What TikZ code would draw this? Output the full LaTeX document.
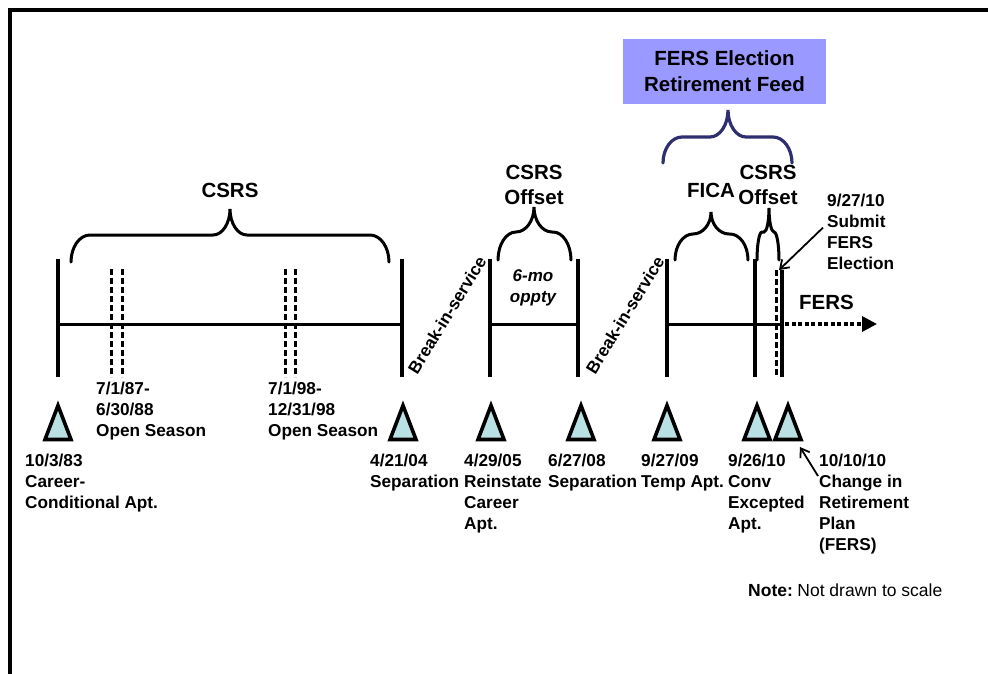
\documentclass[tikz,border=0pt]{standalone}
\usepackage{fontspec}
\setmainfont{Liberation Sans}
\usetikzlibrary{arrows.meta}
\definecolor{boxblue}{RGB}{153,153,255}
\definecolor{bracenavy}{RGB}{46,46,112}
\definecolor{teallight}{RGB}{185,224,226}
\newcommand\labf{\fontsize{17.2}{21}\selectfont\bfseries}
\newcommand\headf{\fontsize{20.5}{24.5}\selectfont\bfseries}
% #1 style, #2 x1, #3 x2, #4 xtip, #5 yend, #6 ymid, #7 ytip, #8 r(end), #9 r(tip)
\newcommand{\mybrace}[9]{%
\draw[#1] (#2,#5) .. controls (#2,{#5-0.552*(#5-#6)}) and ({#2+0.448*#8},#6) .. ({#2+#8},#6)
 -- ({#4-#9},#6) .. controls ({#4-0.448*#9},#6) and (#4,{#7+0.552*(#6-#7)}) .. (#4,#7)
 .. controls (#4,{#7+0.552*(#6-#7)}) and ({#4+0.448*#9},#6) .. ({#4+#9},#6)
 -- ({#3-#8},#6) .. controls ({#3-0.448*#8},#6) and (#3,{#5-0.552*(#5-#6)}) .. (#3,#5);}
\begin{document}
\begin{tikzpicture}[x=1pt,y=-1pt,
  frameline/.style={line width=4pt},
  vline/.style={line width=3.6pt},
  tline/.style={line width=3pt},
  dline/.style={line width=3pt, dash pattern=on 6pt off 3pt},
  bracestyle/.style={line width=3pt, line cap=round},
  lab/.style={font=\labf, align=left, anchor=north west, inner sep=0pt},
  head/.style={font=\headf, align=center, inner sep=0pt},
  tri/.style={draw, line width=3.6pt, fill=teallight},
  arr/.style={line width=1.8pt, -{Straight Barb[length=8pt,width=11pt]}},
  dotarr/.style={line width=3.4pt, dash pattern=on 4pt off 2.5pt, -{Triangle[length=15pt,width=15pt]}}
]
\useasboundingbox (0,0) rectangle (988,673);
% frame
\draw[frameline] (9.5,675) -- (9.5,9.5) -- (992,9.5);

% top box and brace
\node[head, fill=boxblue, minimum width=203pt, minimum height=65pt, font=\fontsize{20.5}{26}\selectfont\bfseries] (feed) at (724.5,71.5) {FERS Election\\Retirement Feed};
\mybrace{bracestyle, draw=bracenavy, line width=3.2pt}{663}{792}{728}{163}{137}{110}{19}{18}

% braces
\mybrace{bracestyle}{71}{389}{230}{262}{235}{209}{19}{17}
\mybrace{bracestyle}{498}{571}{534}{260}{232}{207}{18}{18}
\mybrace{bracestyle}{675}{748}{711}{260}{234}{212}{18}{18}
\mybrace{bracestyle}{757}{779}{769}{260}{232}{208}{5}{5}

% headings
\node[head] (csrs) at (230,190) {CSRS};
\node[head] (off1) at (534,185) {CSRS\\Offset};
\node[head] (fica) at (711,190) {FICA};
\node[head] (off2) at (768,185) {CSRS\\Offset};
\node[head, anchor=west] (fers) at (799,302) {FERS};

% vertical lines
\foreach \x in {58,402,490,578,667,755}
  \draw[vline] (\x,259) -- (\x,377);
\draw[vline] (782,270) -- (782,377);
\foreach \x in {111,122,285,295}
  \draw[dline] (\x,269) -- (\x,377);
\draw[dline] (776.5,270) -- (776.5,377);

% timeline
\draw[tline] (58,324) -- (402,324);
\draw[tline] (490,324) -- (578,324);
\draw[tline] (667,324) -- (782,324);
\coordinate (fstart) at (785,324);
\coordinate (fend) at (877,324);
\draw[dotarr] (fstart) -- (fend);

% break in service
\node[font=\labf, rotate=58.5, inner sep=0pt] (bis1) at (447,315) {Break-in-service};
\node[font=\labf, rotate=58.5, inner sep=0pt] (bis2) at (625,315) {Break-in-service};
\node[font=\fontsize{17}{21.5}\selectfont\bfseries\itshape, align=center, inner sep=0pt] (oppty) at (533,288) {6-mo\\oppty};

% triangles
\foreach \x in {58,403,491,581,667,757,788}
  \draw[tri] (\x-13,439.5) -- (\x,405.5) -- (\x+13,439.5) -- cycle;

% labels
\node[lab] (l1) at (25,453.6) {10/3/83\\Career-\\Conditional Apt.};
\node[lab] (os1) at (96,381.6) {7/1/87-\\6/30/88\\Open Season};
\node[lab] (os2) at (268,381.6) {7/1/98-\\12/31/98\\Open Season};
\node[lab] (l2) at (370,453.6) {4/21/04\\Separation};
\node[lab] (l3) at (464,453.6) {4/29/05\\Reinstate\\Career\\Apt.};
\node[lab] (l4) at (548,453.6) {6/27/08\\Separation};
\node[lab] (l5) at (641,453.6) {9/27/09\\Temp Apt.};
\node[lab] (l6) at (728,453.6) {9/26/10\\Conv\\Excepted\\Apt.};
\node[lab] (l7) at (819,453.6) {10/10/10\\Change in\\Retirement\\Plan\\(FERS)};
\node[lab] (sub) at (827,193.6) {9/27/10\\Submit\\FERS\\Election};

% annotation arrows
\coordinate (subhead) at (779,270);
\draw[arr] ([xshift=-4pt,yshift=4pt]sub.west) -- (subhead);
\coordinate (chgtail) at (818,476);
\coordinate (chghead) at (800,447);
\draw[arr] (chgtail) -- (chghead);

% note
\node[anchor=west, inner sep=0pt, font=\fontsize{17.5}{21}\selectfont] (note) at (748,590) {\textbf{Note:}\hspace{-2pt} Not drawn to scale};
\end{tikzpicture}
\end{document}
